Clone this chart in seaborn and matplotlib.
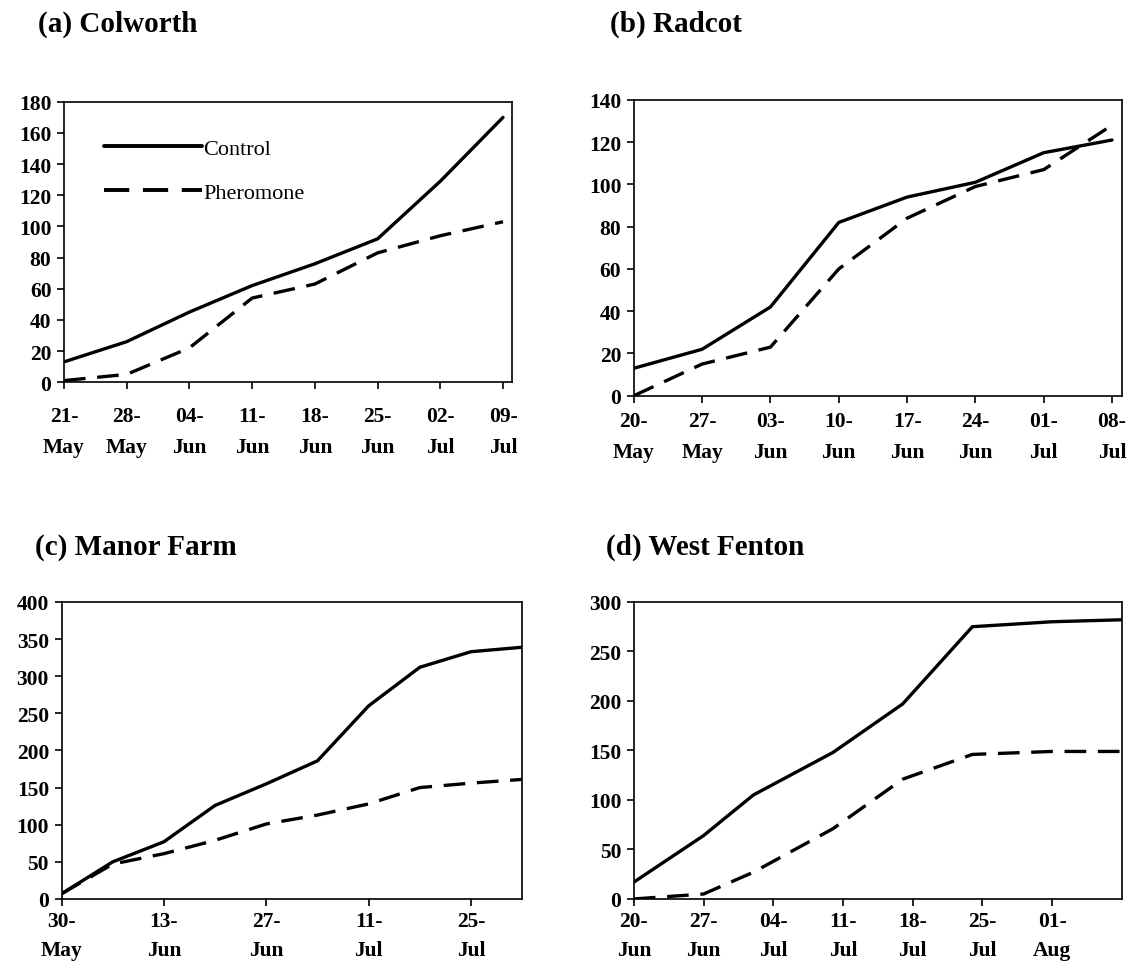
import numpy as np
import pandas as pd
import matplotlib
matplotlib.use('Agg')
import matplotlib.pyplot as plt
import matplotlib.dates as mdates
import seaborn as sns

# ---- data ----
treatments = ['Control', 'Pheromone']

colworth_dates = ['2003-05-21', '2003-05-28', '2003-06-04', '2003-06-11',
                  '2003-06-18', '2003-06-25', '2003-07-02', '2003-07-09']
colworth_control = [13, 26, 45, 62, 76, 92, 129, 170]
colworth_pheromone = [1, 5, 22, 54, 63, 83, 94, 103]
colworth_ticks = colworth_dates
colworth_xmax = '2003-07-10'

radcot_dates = ['2003-05-20', '2003-05-27', '2003-06-03', '2003-06-10',
                '2003-06-17', '2003-06-24', '2003-07-01', '2003-07-08']
radcot_control = [13, 22, 42, 82, 94, 101, 115, 121]
radcot_pheromone = [0, 15, 23, 60, 84, 99, 107, 128]
radcot_ticks = radcot_dates
radcot_xmax = '2003-07-09'

manor_dates = ['2003-05-30', '2003-06-06', '2003-06-13', '2003-06-20',
               '2003-06-27', '2003-07-04', '2003-07-11', '2003-07-18',
               '2003-07-25', '2003-08-01']
manor_control = [7, 50, 77, 126, 155, 186, 260, 312, 333, 339]
manor_pheromone = [7, 47, 61, 79, 101, 113, 128, 150, 156, 161]
manor_ticks = ['2003-05-30', '2003-06-13', '2003-06-27', '2003-07-11',
               '2003-07-25']
manor_xmax = '2003-08-01'

fenton_dates = ['2003-06-20', '2003-06-27', '2003-07-02', '2003-07-10',
                '2003-07-17', '2003-07-24', '2003-08-01', '2003-08-08']
fenton_control = [17, 64, 105, 148, 197, 275, 280, 282]
fenton_pheromone = [0, 5, 27, 71, 121, 146, 149, 149]
fenton_ticks = ['2003-06-20', '2003-06-27', '2003-07-04', '2003-07-11',
                '2003-07-18', '2003-07-25', '2003-08-01']
fenton_xmax = '2003-08-08'

panels = [
    ('(a) Colworth', colworth_dates, colworth_control, colworth_pheromone,
     colworth_ticks, colworth_xmax, 180, 20),
    ('(b) Radcot', radcot_dates, radcot_control, radcot_pheromone,
     radcot_ticks, radcot_xmax, 140, 20),
    ('(c) Manor Farm', manor_dates, manor_control, manor_pheromone,
     manor_ticks, manor_xmax, 400, 50),
    ('(d) West Fenton', fenton_dates, fenton_control, fenton_pheromone,
     fenton_ticks, fenton_xmax, 300, 50),
]

# axes boxes [left, bottom, width, height] in figure fractions
boxes = [
    [0.0561, 0.605, 0.393, 0.289],
    [0.556, 0.591, 0.428, 0.305],
    [0.054, 0.0722, 0.404, 0.3062],
    [0.556, 0.0722, 0.428, 0.3062],
]
title_pos = [(0.033, 0.975), (0.535, 0.975), (0.031, 0.436), (0.532, 0.436)]
xpads = [12, 6, 4, 4]
xspacing = [1.75, 1.75, 1.6, 1.6]

sns.set_theme(style='ticks')
plt.rcParams['font.family'] = ['Liberation Serif', 'DejaVu Serif']
plt.rcParams['text.color'] = 'black'

fig = plt.figure(figsize=(11.4, 9.7), dpi=100)

for k, (title, dates, ctrl, pher, ticks, xmax, ymax, ystep) in enumerate(panels):
    ax = fig.add_axes(boxes[k])
    df = pd.DataFrame({
        'date': pd.to_datetime(dates * 2),
        'count': ctrl + pher,
        'treatment': [treatments[0]] * len(dates) + [treatments[1]] * len(dates),
    })
    sns.lineplot(data=df, x='date', y='count', hue='treatment',
                 style='treatment', palette=['black', 'black'],
                 dashes={'Control': '', 'Pheromone': (6.5, 3.5)},
                 linewidth=2.4, ax=ax, legend=(k == 0))

    ax.set_xlim(pd.Timestamp(dates[0]), pd.Timestamp(xmax))
    ax.set_ylim(0, ymax)
    ax.set_yticks(np.arange(0, ymax + 1, ystep))
    ax.set_xticks(pd.to_datetime(ticks))
    ax.xaxis.set_major_formatter(mdates.DateFormatter('%d-\n%b'))
    ax.set_xlabel('')
    ax.set_ylabel('')
    ax.tick_params(axis='both', labelsize=15.5, direction='out', length=5,
                   width=1.2, color='black', labelcolor='black')
    ax.tick_params(axis='x', pad=xpads[k])
    ax.tick_params(axis='y', pad=4)
    for lab in ax.get_xticklabels() + ax.get_yticklabels():
        lab.set_fontweight('bold')
    for lab in ax.get_xticklabels():
        lab.set_linespacing(xspacing[k])
    for side in ['top', 'right', 'left', 'bottom']:
        ax.spines[side].set_visible(True)
        ax.spines[side].set_color('black')
        ax.spines[side].set_linewidth(1.2)

    fig.text(title_pos[k][0], title_pos[k][1], title, fontsize=21,
             fontweight='bold', va='center', ha='left', color='black')

    if k == 0:
        leg = ax.legend(loc='upper left', bbox_to_anchor=(0.045, 0.94),
                        frameon=False, fontsize=16, handlelength=4.4,
                        handletextpad=0.05, labelspacing=1.05)
        for line in leg.get_lines():
            line.set_linewidth(2.8)
        for txt in leg.get_texts():
            txt.set_color('black')

fig.savefig('out.png', dpi=100)
